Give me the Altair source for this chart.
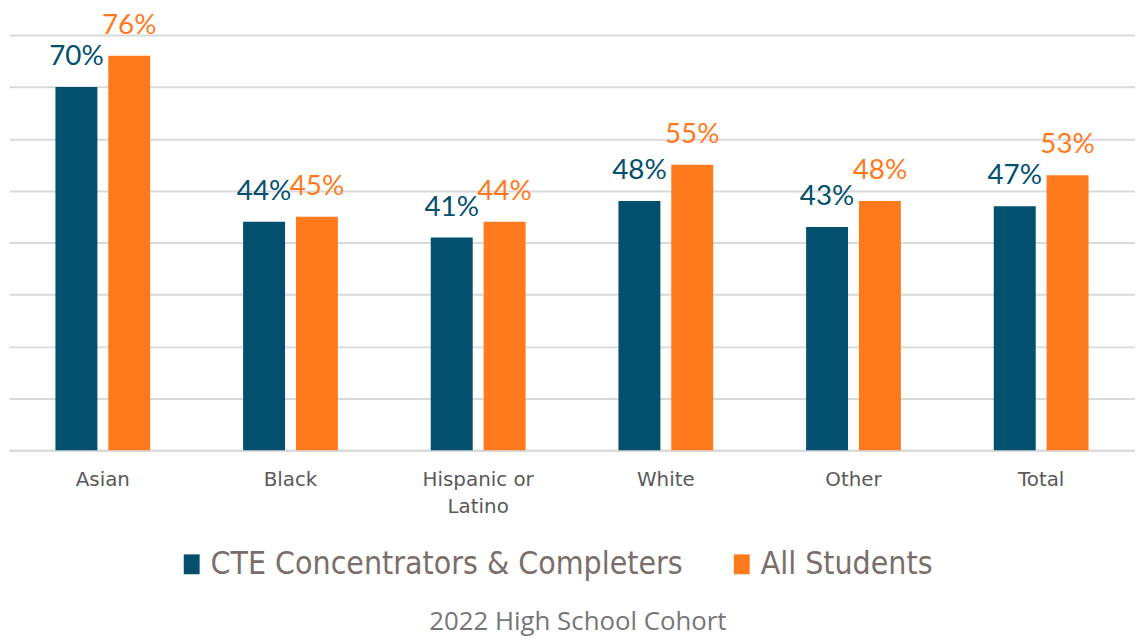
import altair as alt
import pandas as pd

categories = ["Asian", "Black", "Hispanic or Latino", "White", "Other", "Total"]
series = ["CTE Concentrators & Completers", "All Students"]
cte_values = [70, 44, 41, 48, 43, 47]
all_values = [76, 45, 44, 55, 48, 53]
colors = ["#02506e", "#fe7a1c"]
grid_values = [0, 10, 20, 30, 40, 50, 60, 70, 80]

rows = []
for c, a, b in zip(categories, cte_values, all_values):
    rows.append({"category": c, "series": series[0], "value": a})
    rows.append({"category": c, "series": series[1], "value": b})
df = pd.DataFrame(rows)

base = alt.Chart(df).encode(
    x=alt.X(
        "category:N",
        sort=categories,
        scale=alt.Scale(paddingInner=0.495, paddingOuter=0.2475),
        axis=alt.Axis(
            title=None,
            labelExpr="datum.label == 'Hispanic or Latino' ? ['Hispanic or', 'Latino'] : datum.label",
            labelFont="DejaVu Sans",
            labelFontSize=20,
            labelColor="#595959",
            labelPadding=20,
            labelLineHeight=27,
            ticks=False,
            domainColor="#d9d9d9",
            domainWidth=2,
            labelAngle=0,
        ),
    ),
    xOffset=alt.XOffset("series:N", sort=series, scale=alt.Scale(paddingInner=0.206)),
    y=alt.Y(
        "value:Q",
        scale=alt.Scale(domain=[0, 80], nice=False),
        axis=alt.Axis(
            title=None,
            labels=False,
            ticks=False,
            domain=False,
            values=grid_values,
            gridColor="#d9d9d9",
            gridWidth=2,
        ),
    ),
    color=alt.Color(
        "series:N",
        sort=series,
        scale=alt.Scale(domain=series, range=colors),
        legend=alt.Legend(
            title=None,
            orient="none",
            legendX=168,
            legendY=517,
            direction="horizontal",
            columns=2,
            symbolType="M-0.8,-1H0.8V1H-0.8Z",
            symbolSize=400,
            symbolStrokeWidth=0,
            symbolOpacity=1,
            labelFont="DejaVu Sans Condensed",
            labelFontSize=32,
            labelColor="#7a6e6a",
            labelLimit=0,
            columnPadding=43,
            symbolOffset=0,
            labelOffset=3,
        ),
    ),
)

bars = base.mark_bar()
labels = (
    base.mark_text(baseline="bottom", dy=-16, font="Lato", fontSize=28)
    .transform_calculate(lbl="datum.value + '%'")
    .encode(text="lbl:N")
)

chart = (
    alt.layer(bars, labels)
    .properties(
        width=1134,
        height=418,
        autosize=alt.AutoSizeParams(type="none"),
        padding={"left": 1, "top": 25, "right": 0, "bottom": 200},
        title=alt.TitleParams(
            "2022 High School Cohort",
            orient="bottom",
            anchor="middle",
            font="Open Sans",
            fontSize=26,
            fontWeight="normal",
            color="#767676",
            offset=29,
            dx=6,
        ),
    )
    .configure_view(stroke=None)
)

chart.save("out.html", embed_options={"renderer": "svg", "actions": False})
